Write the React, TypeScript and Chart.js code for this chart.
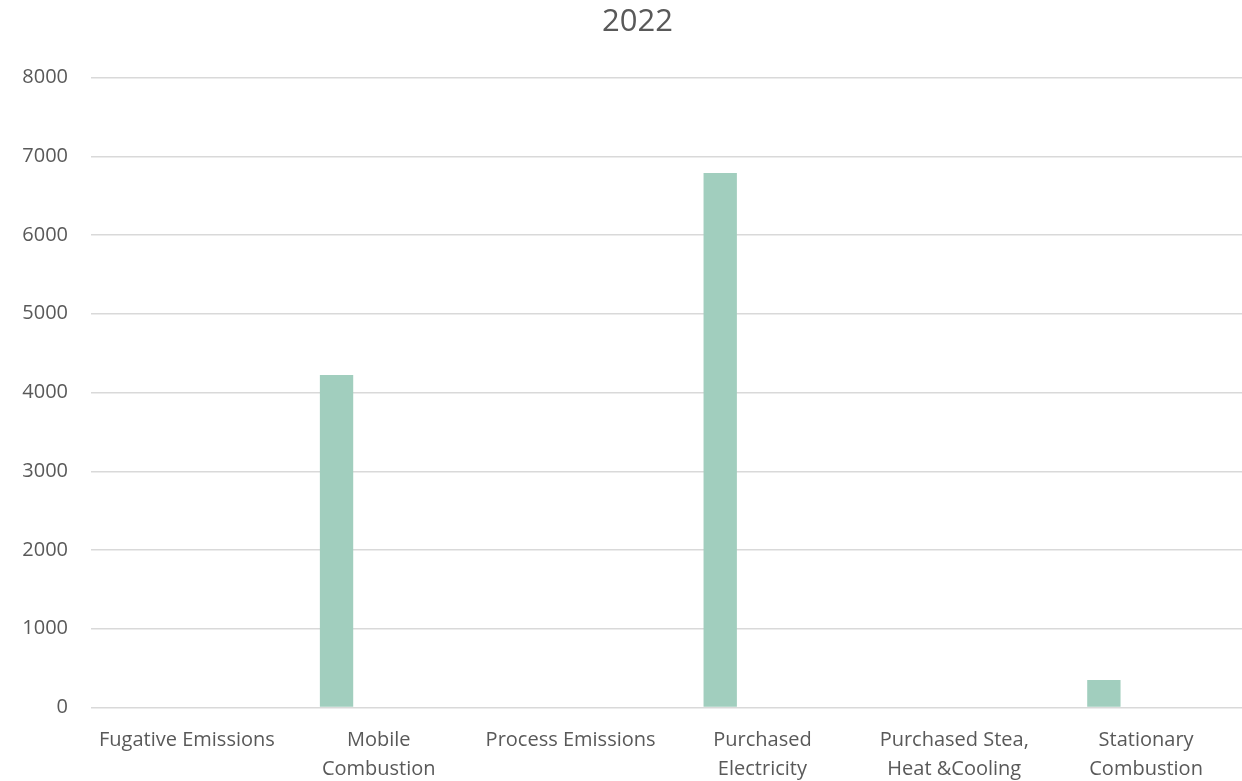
import React, { useEffect, useRef } from "react";
import { Chart, registerables } from "chart.js";

Chart.register(...registerables);

const categories: (string | string[])[] = [
  "Fugative Emissions",
  ["Mobile", "Combustion"],
  "Process Emissions",
  ["Purchased", "Electricity"],
  ["Purchased Stea,", "Heat &Cooling"],
  ["Stationary", "Combustion"],
];
const values2022: (number | null)[] = [null, 4222, null, 6787, null, 349];
const emptySeriesA: (number | null)[] = [null, null, null, null, null, null];
const emptySeriesB: (number | null)[] = [null, null, null, null, null, null];
const yTicks = [0, 1000, 2000, 3000, 4000, 5000, 6000, 7000, 8000];

const textColor = "#595959";
const barColor = "rgb(161,206,190)";
const gridColor = "#d9d9d9";
const fontFamily = "'Open Sans', sans-serif";

const titleShift = {
  id: "titleShift",
  afterLayout(chart: any) {
    if (chart.titleBlock) chart.titleBlock.left += 12;
  },
};

export default function App() {
  const ref = useRef<HTMLCanvasElement | null>(null);
  useEffect(() => {
    if (!ref.current) return;
    const chart = new Chart(ref.current, {
      type: "bar",
      data: {
        labels: categories,
        datasets: [
          { label: "2022", data: values2022, backgroundColor: barColor },
          { label: "a", data: emptySeriesA, backgroundColor: barColor },
          { label: "b", data: emptySeriesB, backgroundColor: barColor },
        ],
      },
      plugins: [titleShift],
      options: {
        animation: false,
        responsive: true,
        maintainAspectRatio: false,
        layout: { padding: { left: 21, right: 0, top: 4, bottom: 0 } },
        datasets: { bar: { categoryPercentage: 0.66, barPercentage: 0.79 } },
        plugins: {
          legend: { display: false },
          tooltip: { enabled: false },
          title: {
            display: true,
            text: "2022",
            color: textColor,
            font: { family: fontFamily, size: 31, weight: "normal", lineHeight: 1.2 },
            padding: { top: 0, bottom: 36.3 },
          },
        },
        scales: {
          x: {
            grid: { display: false },
            border: { display: false },
            afterFit: (axis: any) => {
              axis.paddingLeft = 0;
              axis.paddingRight = 0;
              axis.height = 73.5;
            },
            ticks: {
              color: textColor,
              font: { family: fontFamily, size: 20, lineHeight: 1.45 },
              maxRotation: 0,
              autoSkip: false,
              padding: 10,
            },
          },
          y: {
            min: 0,
            max: 8000,
            afterBuildTicks: (axis: any) => {
              axis.ticks = yTicks.map((v) => ({ value: v }));
            },
            afterFit: (axis: any) => {
              axis.width = 70;
            },
            grid: { color: gridColor, lineWidth: 1.5, drawTicks: false },
            border: { display: false },
            ticks: {
              color: textColor,
              font: { family: fontFamily, size: 20 },
              padding: 23,
              callback: (v: any) => String(v),
            },
          },
        },
      },
    });
    return () => chart.destroy();
  }, []);
  return (
    <div style={{ position: "fixed", left: 0, top: 0, width: 1242, height: 781, background: "#fff" }}>
      <canvas ref={ref} />
    </div>
  );
}
